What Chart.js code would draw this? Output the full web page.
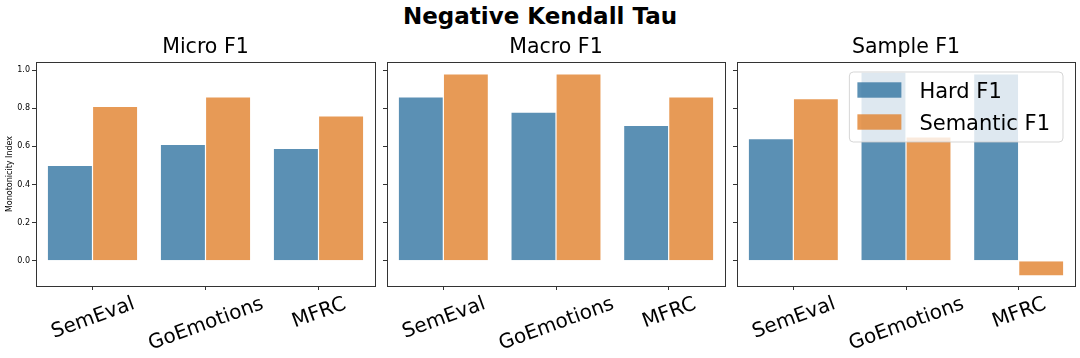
<!DOCTYPE html>
<html>
<head>
<meta charset="utf-8">
<script src="https://cdn.jsdelivr.net/npm/chart.js@4.4.0/dist/chart.umd.min.js"></script>
<style>
  html, body { margin: 0; padding: 0; background: #fff; }
  #wrap { position: relative; width: 1080px; height: 358px; overflow: hidden; font-family: "DejaVu Sans", sans-serif; }
  #suptitle { position: absolute; left: 0; top: 5px; width: 1080px; text-align: center; font-weight: bold; font-size: 23px; line-height: 23px; color: #000; }
  canvas { position: absolute; }
</style>
</head>
<body>
<div id="wrap">
  <div id="suptitle">Negative Kendall Tau</div>
  <canvas id="c0"></canvas>
  <canvas id="c1"></canvas>
  <canvas id="c2"></canvas>
</div>
<script>
// --- データ ---
const categories = ["SemEval", "GoEmotions", "MFRC"];
const panelTitles = ["Micro F1", "Macro F1", "Sample F1"];
const seriesNames = ["Hard F1", "Semantic F1"];

const hardMicro = [0.50, 0.61, 0.59];
const semanticMicro = [0.81, 0.86, 0.76];
const hardMacro = [0.86, 0.78, 0.71];
const semanticMacro = [0.98, 0.98, 0.86];
const hardSample = [0.64, 0.99, 0.98];
const semanticSample = [0.85, 0.65, -0.08];

const yTicks = [0, 0.2, 0.4, 0.6, 0.8, 1.0];
const yLabel = "Monotonicity Index";
const yMin = -0.133;
const yMax = 1.043;

const panels = [
  { title: panelTitles[0], hard: hardMicro, semantic: semanticMicro },
  { title: panelTitles[1], hard: hardMacro, semantic: semanticMacro },
  { title: panelTitles[2], hard: hardSample, semantic: semanticSample }
];

// --- スタイル ---
const FONT = "'DejaVu Sans', sans-serif";
const BLUE = "rgba(50,116,161,0.8)";
const ORANGE = "rgba(225,129,44,0.8)";
const EDGE = "rgba(255,255,255,0.5)";

// 各パネルの軸の左右位置 (ページ座標)
const axLeft = [36, 387, 737];
const axRight = [375, 725, 1075];
const canvasTop = 28;
const canvasHeight = 330;

// 軸の四辺の枠
const framePlugin = {
  id: "frame",
  afterDraw(chart) {
    const { ctx, chartArea: a } = chart;
    ctx.save();
    ctx.strokeStyle = "#333";
    ctx.lineWidth = 1;
    const l = Math.floor(a.left) + 0.5;
    const t = Math.floor(a.top) + 0.5;
    ctx.strokeRect(l, t, Math.round(a.right - a.left), Math.round(a.bottom - a.top));
    ctx.restore();
  }
};

// x軸ラベル: 中央揃えで20度回転 (matplotlib風)
const xLabelPlugin = {
  id: "xLabels",
  afterDraw(chart) {
    const { ctx, chartArea: a } = chart;
    const sx = chart.scales.x;
    const fs = 20;
    const rot = 20 * Math.PI / 180;
    ctx.save();
    ctx.font = `${fs}px ${FONT}`;
    ctx.fillStyle = "#000";
    ctx.textAlign = "center";
    ctx.textBaseline = "alphabetic";
    chart.data.labels.forEach((lab, i) => {
      const x = sx.getPixelForTick(i);
      const w = ctx.measureText(lab).width;
      const h = fs * 1.164;
      const bh = w * Math.sin(rot) + h * Math.cos(rot);
      const cy = a.bottom + 5 + bh / 2;
      ctx.save();
      ctx.translate(x, cy);
      ctx.rotate(-rot);
      ctx.fillText(lab, 0, 0.346 * fs);
      ctx.restore();
    });
    ctx.restore();
  }
};

// 凡例 (半透明の白い枠、右上)
const boxLegendPlugin = {
  id: "boxLegend",
  afterDraw(chart, args, opts) {
    if (!opts || !opts.show) return;
    const { ctx, chartArea: a } = chart;
    const fs = 21;
    ctx.save();
    ctx.font = `${fs}px ${FONT}`;
    const sets = chart.data.datasets;
    const tw = Math.max(...sets.map(d => ctx.measureText(d.label).width));
    const patchW = 44, patchH = 15.4, rowH = 32;
    const boxW = 8 + patchW + 18 + tw + 13;
    const boxH = 70;
    const right = a.right - 12;
    const top = a.top + 10;
    const left = right - boxW;

    ctx.beginPath();
    ctx.roundRect(left, top, boxW, boxH, 4);
    ctx.fillStyle = "rgba(255,255,255,0.8)";
    ctx.fill();
    ctx.strokeStyle = "rgba(204,204,204,0.8)";
    ctx.lineWidth = 1;
    ctx.stroke();

    sets.forEach((d, i) => {
      const cy = top + 18 + i * rowH;
      ctx.fillStyle = d.backgroundColor;
      ctx.fillRect(left + 8, cy - patchH / 2, patchW, patchH);
      ctx.fillStyle = "#000";
      ctx.textAlign = "left";
      ctx.textBaseline = "alphabetic";
      ctx.fillText(d.label, left + 8 + patchW + 18, cy + 0.365 * fs);
    });
    ctx.restore();
  }
};

// --- 描画 ---
panels.forEach((p, i) => {
  const yW = i === 0 ? 36 : 8;
  const canvas = document.getElementById("c" + i);
  const left = axLeft[i] - yW;
  canvas.width = axRight[i] + 5 - left;
  canvas.height = canvasHeight;
  canvas.style.left = left + "px";
  canvas.style.top = canvasTop + "px";

  new Chart(canvas, {
    type: "bar",
    data: {
      labels: categories,
      datasets: [
        { label: seriesNames[0], data: p.hard, backgroundColor: BLUE, borderColor: EDGE, borderWidth: 0.6,
          categoryPercentage: 0.8, barPercentage: 1.0 },
        { label: seriesNames[1], data: p.semantic, backgroundColor: ORANGE, borderColor: EDGE, borderWidth: 0.6,
          categoryPercentage: 0.8, barPercentage: 1.0 }
      ]
    },
    options: {
      responsive: false,
      animation: false,
      devicePixelRatio: 1,
      layout: { padding: { left: 0, right: 5, top: 0, bottom: 0 } },
      plugins: {
        legend: { display: false },
        tooltip: { enabled: false },
        title: {
          display: true,
          text: p.title,
          color: "#000",
          fullSize: false,
          font: { family: FONT, size: 20.5, weight: "normal", lineHeight: 1.2 },
          padding: { top: 7, bottom: 2.4 }
        },
        boxLegend: { show: i === 2 }
      },
      scales: {
        x: {
          grid: { display: true, drawOnChartArea: false, drawTicks: true, tickLength: 4, tickColor: "#333", offset: false },
          border: { display: false },
          ticks: { display: false },
          afterFit: s => { s.height = canvasHeight - 34 - 224; }
        },
        y: {
          min: yMin,
          max: yMax,
          afterBuildTicks: s => { s.ticks = yTicks.map(v => ({ value: v })); },
          grid: { display: true, drawOnChartArea: false, drawTicks: true, tickLength: 4, tickColor: "#333" },
          border: { display: false },
          ticks: {
            display: i === 0,
            color: "#000",
            padding: 2,
            font: { family: FONT, size: 8 },
            callback: v => v.toFixed(1)
          },
          title: {
            display: i === 0,
            text: yLabel,
            color: "#000",
            font: { family: FONT, size: 8 },
            padding: { top: 5, bottom: 0 }
          },
          afterFit: s => { s.width = yW; }
        }
      }
    },
    plugins: [framePlugin, xLabelPlugin, boxLegendPlugin]
  });
});
</script>
</body>
</html>
